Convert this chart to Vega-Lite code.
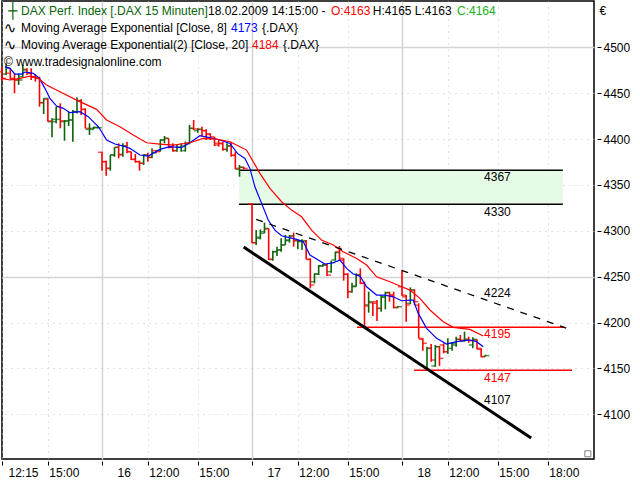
{
  "$schema": "https://vega.github.io/schema/vega-lite/v6.json",
  "autosize": "none",
  "width": 592,
  "height": 458,
  "padding": {"left": 2, "top": 1, "right": 46, "bottom": 21},
  "background": "white",
  "config": {
    "font": "Liberation Sans",
    "view": {"stroke": "black", "strokeWidth": 1.5}
  },
  "datasets": {
    "bars": [
      {"bar":-24,"open":4473.5,"high":4479,"low":4463.7,"close":4466.2},
      {"bar":-23,"open":4471,"high":4482.6,"low":4469.9,"close":4477.1},
      {"bar":-22,"open":4471.7,"high":4477.1,"low":4465.1,"close":4465.1},
      {"bar":-21,"open":4466.2,"high":4471.7,"low":4449.9,"close":4464.4},
      {"bar":-20,"open":4464.4,"high":4471.7,"low":4459,"close":4464.4},
      {"bar":-19,"open":4468,"high":4480.7,"low":4468,"close":4475.3},
      {"bar":-18,"open":4476,"high":4477.1,"low":4469.9,"close":4471.7},
      {"bar":-17,"open":4471.7,"high":4477.1,"low":4464.4,"close":4468},
      {"bar":-16,"open":4468,"high":4470.9,"low":4462.6,"close":4466.2},
      {"bar":-15,"open":4466.2,"high":4468,"low":4435.3,"close":4439.7},
      {"bar":-14,"open":4439.7,"high":4444.4,"low":4427.3,"close":4444.4},
      {"bar":-13,"open":4443.3,"high":4444.4,"low":4419,"close":4419.7},
      {"bar":-12,"open":4419,"high":4422.6,"low":4401.9,"close":4421.5},
      {"bar":-11,"open":4419,"high":4435.3,"low":4417.2,"close":4421.5},
      {"bar":-10,"open":4435.3,"high":4439,"low":4411.7,"close":4420},
      {"bar":-9,"open":4419,"high":4420.8,"low":4398.3,"close":4419.7},
      {"bar":-8,"open":4419.7,"high":4429.9,"low":4414.3,"close":4420.8},
      {"bar":-7,"open":4420.8,"high":4431.7,"low":4397.2,"close":4429.9},
      {"bar":-6,"open":4429.9,"high":4445.5,"low":4428,"close":4441.9},
      {"bar":-5,"open":4441.9,"high":4443.3,"low":4426.3,"close":4432.4},
      {"bar":-4,"open":4432.4,"high":4433.5,"low":4411.7,"close":4411.7},
      {"bar":-3,"open":4410.6,"high":4417.2,"low":4404.5,"close":4411.7},
      {"bar":-2,"open":4410.6,"high":4413.5,"low":4410.6,"close":4412.8},
      {"bar":-1,"open":4412.4,"high":4413.5,"low":4411.7,"close":4412.4},
      {"bar":0,"open":4385.6,"high":4386.3,"low":4365.6,"close":4375.4},
      {"bar":1,"open":4375.4,"high":4376.5,"low":4360.1,"close":4368.1},
      {"bar":2,"open":4368.1,"high":4382.7,"low":4365.6,"close":4382.7},
      {"bar":3,"open":4382.7,"high":4391,"low":4380.8,"close":4391},
      {"bar":4,"open":4391,"high":4395.4,"low":4379,"close":4382.7},
      {"bar":5,"open":4383.4,"high":4395.4,"low":4380.8,"close":4392.5},
      {"bar":6,"open":4392.5,"high":4397.2,"low":4384.5,"close":4386.3},
      {"bar":7,"open":4386.3,"high":4386.3,"low":4377.2,"close":4377.9},
      {"bar":8,"open":4377.9,"high":4383.7,"low":4374.3,"close":4375.4},
      {"bar":9,"open":4375.4,"high":4376.5,"low":4365.6,"close":4373.6},
      {"bar":10,"open":4373.6,"high":4383.4,"low":4371.8,"close":4382.7},
      {"bar":11,"open":4382.7,"high":4385.2,"low":4375.4,"close":4380.1},
      {"bar":12,"open":4380.1,"high":4389.9,"low":4379,"close":4385.2},
      {"bar":13,"open":4387.4,"high":4388.1,"low":4384.5,"close":4386.3},
      {"bar":14,"open":4387.4,"high":4399.7,"low":4386.3,"close":4399},
      {"bar":15,"open":4399,"high":4403.4,"low":4395.4,"close":4400.8},
      {"bar":16,"open":4400.8,"high":4400.8,"low":4389.9,"close":4391},
      {"bar":17,"open":4391,"high":4395.4,"low":4386.3,"close":4387.4},
      {"bar":18,"open":4387.4,"high":4393.6,"low":4386.3,"close":4391},
      {"bar":19,"open":4391,"high":4395.4,"low":4386.3,"close":4392.5},
      {"bar":20,"open":4387.4,"high":4397.2,"low":4386.3,"close":4395.4},
      {"bar":21,"open":4395.4,"high":4415.4,"low":4394.3,"close":4411.7},
      {"bar":22,"open":4411.7,"high":4420.8,"low":4409.9,"close":4411},
      {"bar":23,"open":4409.2,"high":4411.7,"low":4407,"close":4410.6},
      {"bar":24,"open":4410.6,"high":4413.5,"low":4402.6,"close":4409.2},
      {"bar":25,"open":4409.2,"high":4410.6,"low":4399,"close":4405.5},
      {"bar":26,"open":4405.5,"high":4406.3,"low":4399,"close":4402.6},
      {"bar":27,"open":4400.8,"high":4402.6,"low":4392.5,"close":4393.6},
      {"bar":28,"open":4395.4,"high":4399,"low":4391.7,"close":4395},
      {"bar":29,"open":4395.4,"high":4397.2,"low":4387.4,"close":4388.8},
      {"bar":30,"open":4388.8,"high":4395.4,"low":4386.3,"close":4392.5},
      {"bar":31,"open":4392.5,"high":4397.2,"low":4380.8,"close":4382.3},
      {"bar":32,"open":4382.3,"high":4386.3,"low":4367,"close":4368.1},
      {"bar":33,"open":4367,"high":4371.8,"low":4359,"close":4369.2},
      {"bar":34,"open":4369.2,"high":4369.9,"low":4367,"close":4368.1},
      {"bar":36,"open":4329.2,"high":4330,"low":4286.4,"close":4287.1},
      {"bar":37,"open":4287.1,"high":4300.9,"low":4284.6,"close":4291.8},
      {"bar":38,"open":4292.9,"high":4301.6,"low":4290.7,"close":4297.3},
      {"bar":39,"open":4299.1,"high":4308.9,"low":4297.3,"close":4302.7},
      {"bar":40,"open":4302,"high":4302.7,"low":4268.2,"close":4268.9},
      {"bar":41,"open":4268.9,"high":4278.4,"low":4267.5,"close":4277.3},
      {"bar":42,"open":4277.3,"high":4282.7,"low":4272.6,"close":4279.1},
      {"bar":43,"open":4279.1,"high":4291.8,"low":4277.3,"close":4284.6},
      {"bar":44,"open":4284.6,"high":4295.5,"low":4284.6,"close":4290},
      {"bar":45,"open":4289.3,"high":4295.5,"low":4287.1,"close":4294.4},
      {"bar":46,"open":4294.4,"high":4298,"low":4282.7,"close":4289.3},
      {"bar":47,"open":4289.3,"high":4290.7,"low":4279.8,"close":4289.3},
      {"bar":48,"open":4288.2,"high":4290.7,"low":4279.1,"close":4289.3},
      {"bar":49,"open":4288.2,"high":4290,"low":4268.9,"close":4268.9},
      {"bar":50,"open":4268.9,"high":4270,"low":4237.3,"close":4241},
      {"bar":51,"open":4244.5,"high":4253.6,"low":4242.7,"close":4252.9},
      {"bar":52,"open":4252.9,"high":4262.7,"low":4251.8,"close":4261.6},
      {"bar":53,"open":4261.9,"high":4263.8,"low":4260.8,"close":4262.7},
      {"bar":54,"open":4262.7,"high":4264.5,"low":4250.7,"close":4251.8},
      {"bar":55,"open":4255.5,"high":4267.5,"low":4254.4,"close":4265.3},
      {"bar":56,"open":4268.2,"high":4277.3,"low":4267.5,"close":4276.2},
      {"bar":57,"open":4277.3,"high":4283.5,"low":4268.2,"close":4270},
      {"bar":58,"open":4268.2,"high":4270,"low":4245.7,"close":4252.6},
      {"bar":59,"open":4252.6,"high":4253.7,"low":4226.4,"close":4233.7},
      {"bar":60,"open":4233.7,"high":4243.5,"low":4232.6,"close":4239.1},
      {"bar":61,"open":4239.9,"high":4253.7,"low":4239.1,"close":4251.9},
      {"bar":62,"open":4251.9,"high":4259.1,"low":4242,"close":4242.8},
      {"bar":63,"open":4242.8,"high":4244.6,"low":4194.8,"close":4218.1},
      {"bar":64,"open":4219.2,"high":4233.7,"low":4210.8,"close":4222.8},
      {"bar":65,"open":4221.7,"high":4222.8,"low":4207.2,"close":4221},
      {"bar":66,"open":4222.8,"high":4224.6,"low":4201.7,"close":4215.5},
      {"bar":67,"open":4215.5,"high":4230,"low":4211.9,"close":4228.2},
      {"bar":68,"open":4227.5,"high":4233.7,"low":4214.4,"close":4232.6},
      {"bar":69,"open":4232.6,"high":4233.7,"low":4222.8,"close":4230},
      {"bar":70,"open":4230,"high":4233.7,"low":4215.5,"close":4216.6},
      {"bar":71,"open":4216.2,"high":4218.1,"low":4216.2,"close":4217.3},
      {"bar":72,"open":4239.1,"high":4256.6,"low":4229,"close":4230},
      {"bar":73,"open":4228.2,"high":4230,"low":4201,"close":4219.2},
      {"bar":74,"open":4221,"high":4238.4,"low":4220.2,"close":4235.5},
      {"bar":75,"open":4235.5,"high":4236.2,"low":4219.2,"close":4222.8},
      {"bar":76,"open":4219,"high":4221,"low":4182.8,"close":4182.8},
      {"bar":77,"open":4181.7,"high":4182.8,"low":4169.4,"close":4177.4},
      {"bar":78,"open":4151.2,"high":4173.7,"low":4150.1,"close":4171.9},
      {"bar":79,"open":4171.9,"high":4176.6,"low":4157.4,"close":4159.2},
      {"bar":80,"open":4152.7,"high":4175.6,"low":4151.9,"close":4173.7},
      {"bar":81,"open":4173.7,"high":4174.5,"low":4152.7,"close":4161},
      {"bar":82,"open":4175.6,"high":4177.4,"low":4166.5,"close":4168.3},
      {"bar":83,"open":4168.3,"high":4182.8,"low":4165.7,"close":4177.4},
      {"bar":84,"open":4171.9,"high":4178.1,"low":4169.4,"close":4177.4},
      {"bar":85,"open":4175.6,"high":4184.6,"low":4173.7,"close":4181.7},
      {"bar":86,"open":4181.7,"high":4186.5,"low":4179.2,"close":4181},
      {"bar":87,"open":4179.9,"high":4190.1,"low":4179.2,"close":4181.7},
      {"bar":88,"open":4181.7,"high":4184.6,"low":4178.1,"close":4180.3},
      {"bar":89,"open":4175.6,"high":4183.9,"low":4171.9,"close":4181.7},
      {"bar":90,"open":4181,"high":4181.7,"low":4170.8,"close":4171.9},
      {"bar":91,"open":4170.8,"high":4171.9,"low":4162.1,"close":4162.8},
      {"bar":92,"open":4163,"high":4165,"low":4163,"close":4164}
    ],
    "averages": [
      {"bar":-23.3,"price":4478.9,"series":"ema8"},{"bar":-22.1,"price":4477.1,"series":"ema8"},
      {"bar":-20.9,"price":4470.9,"series":"ema8"},{"bar":-19.3,"price":4470.9,"series":"ema8"},
      {"bar":-18.5,"price":4473.1,"series":"ema8"},{"bar":-16.5,"price":4471.6,"series":"ema8"},
      {"bar":-15,"price":4466.2,"series":"ema8"},{"bar":-13.7,"price":4455.3,"series":"ema8"},
      {"bar":-12.5,"price":4444.4,"series":"ema8"},{"bar":-10.9,"price":4436,"series":"ema8"},
      {"bar":-9.3,"price":4433.5,"series":"ema8"},{"bar":-7.7,"price":4428.8,"series":"ema8"},
      {"bar":-5.3,"price":4429.8,"series":"ema8"},{"bar":-3.3,"price":4424.4,"series":"ema8"},
      {"bar":-0.9,"price":4413.5,"series":"ema8"},{"bar":-0.1,"price":4408,"series":"ema8"},
      {"bar":1.1,"price":4399,"series":"ema8"},{"bar":3.1,"price":4394.6,"series":"ema8"},
      {"bar":5.1,"price":4392.4,"series":"ema8"},{"bar":6.7,"price":4389.9,"series":"ema8"},
      {"bar":9.1,"price":4382.6,"series":"ema8"},{"bar":11.1,"price":4381.5,"series":"ema8"},
      {"bar":13.9,"price":4388.8,"series":"ema8"},{"bar":16.3,"price":4391.7,"series":"ema8"},
      {"bar":19.1,"price":4390.6,"series":"ema8"},{"bar":21.1,"price":4396.1,"series":"ema8"},
      {"bar":23.5,"price":4403.7,"series":"ema8"},{"bar":25.5,"price":4401.9,"series":"ema8"},
      {"bar":28.3,"price":4399,"series":"ema8"},{"bar":30.7,"price":4395.3,"series":"ema8"},
      {"bar":32.5,"price":4384.4,"series":"ema8"},{"bar":34.3,"price":4378.9,"series":"ema8"},
      {"bar":35.5,"price":4368,"series":"ema8"},{"bar":36.7,"price":4348,"series":"ema8"},
      {"bar":38.3,"price":4329.9,"series":"ema8"},{"bar":39.9,"price":4311.7,"series":"ema8"},
      {"bar":41.5,"price":4300.8,"series":"ema8"},{"bar":43.1,"price":4294.6,"series":"ema8"},
      {"bar":44.7,"price":4292.8,"series":"ema8"},{"bar":46.7,"price":4290.6,"series":"ema8"},
      {"bar":48.3,"price":4288.1,"series":"ema8"},{"bar":49.9,"price":4273.6,"series":"ema8"},
      {"bar":51.9,"price":4268.1,"series":"ema8"},{"bar":53.5,"price":4263.8,"series":"ema8"},
      {"bar":55.5,"price":4265.2,"series":"ema8"},{"bar":57.1,"price":4268.1,"series":"ema8"},
      {"bar":58.7,"price":4259,"series":"ema8"},{"bar":60.3,"price":4252.9,"series":"ema8"},
      {"bar":61.9,"price":4250.7,"series":"ema8"},{"bar":63.5,"price":4239,"series":"ema8"},
      {"bar":65.9,"price":4230,"series":"ema8"},{"bar":67.9,"price":4230,"series":"ema8"},
      {"bar":69.9,"price":4228.1,"series":"ema8"},{"bar":71.9,"price":4223.8,"series":"ema8"},
      {"bar":73.9,"price":4224.5,"series":"ema8"},{"bar":74.7,"price":4224.6,"series":"ema8"},
      {"bar":75.9,"price":4210,"series":"ema8"},{"bar":77.9,"price":4193.7,"series":"ema8"},
      {"bar":80.3,"price":4182.8,"series":"ema8"},{"bar":82.7,"price":4176.6,"series":"ema8"},
      {"bar":85.1,"price":4179.2,"series":"ema8"},{"bar":88.3,"price":4181,"series":"ema8"},
      {"bar":89.9,"price":4179.2,"series":"ema8"},{"bar":91.5,"price":4173.7,"series":"ema8"},
      {"bar":-24.1,"price":4466.2,"series":"ema20"},{"bar":-22.1,"price":4464.4,"series":"ema20"},
      {"bar":-19.7,"price":4466.2,"series":"ema20"},{"bar":-17.3,"price":4468.7,"series":"ema20"},
      {"bar":-15.3,"price":4466.2,"series":"ema20"},{"bar":-13.3,"price":4458.9,"series":"ema20"},
      {"bar":-10.1,"price":4451.6,"series":"ema20"},{"bar":-6.1,"price":4442.5,"series":"ema20"},
      {"bar":-1.3,"price":4432.4,"series":"ema20"},{"bar":1.1,"price":4420.8,"series":"ema20"},
      {"bar":4.3,"price":4413.5,"series":"ema20"},{"bar":7.5,"price":4404.4,"series":"ema20"},
      {"bar":10.7,"price":4396,"series":"ema20"},{"bar":13.9,"price":4394.6,"series":"ema20"},
      {"bar":17.1,"price":4393.5,"series":"ema20"},{"bar":21.1,"price":4396,"series":"ema20"},
      {"bar":24.3,"price":4400.8,"series":"ema20"},{"bar":27.5,"price":4400,"series":"ema20"},
      {"bar":30.7,"price":4397.1,"series":"ema20"},{"bar":33.1,"price":4391.7,"series":"ema20"},
      {"bar":34.7,"price":4388,"series":"ema20"},{"bar":36.3,"price":4375.3,"series":"ema20"},
      {"bar":37.9,"price":4362.6,"series":"ema20"},{"bar":40.3,"price":4346.2,"series":"ema20"},
      {"bar":43.1,"price":4331.7,"series":"ema20"},{"bar":45.5,"price":4322.6,"series":"ema20"},
      {"bar":47.9,"price":4315.3,"series":"ema20"},{"bar":50.3,"price":4300.8,"series":"ema20"},
      {"bar":52.7,"price":4289.9,"series":"ema20"},{"bar":55.5,"price":4284.5,"series":"ema20"},
      {"bar":57.9,"price":4277.2,"series":"ema20"},{"bar":61.1,"price":4269.9,"series":"ema20"},
      {"bar":63.5,"price":4262.7,"series":"ema20"},{"bar":65.9,"price":4249.9,"series":"ema20"},
      {"bar":69.1,"price":4244.5,"series":"ema20"},{"bar":71.5,"price":4239.8,"series":"ema20"},
      {"bar":73.9,"price":4235.4,"series":"ema20"},{"bar":76.3,"price":4226.4,"series":"ema20"},
      {"bar":78.7,"price":4213.7,"series":"ema20"},{"bar":81.9,"price":4201,"series":"ema20"},
      {"bar":84.3,"price":4194.8,"series":"ema20"},{"bar":88.3,"price":4192.6,"series":"ema20"},
      {"bar":91.5,"price":4185.4,"series":"ema20"}
    ],
    "levels": [
      {"start":32.9,"end":110.6,"price":4366,"kind":"zone"},
      {"start":32.9,"end":110.6,"price":4329,"kind":"zone"},
      {"start":61.2,"end":111,"price":4195,"kind":"support"},
      {"start":74.9,"end":112.8,"price":4148,"kind":"support"}
    ],
    "notes": [
      {"bar":91.7,"price":4358.6,"label":"4367","kind":"zone"},
      {"bar":91.7,"price":4320.5,"label":"4330","kind":"zone"},
      {"bar":91.7,"price":4232,"label":"4224","kind":"zone"},
      {"bar":91.7,"price":4187.6,"label":"4195","kind":"support"},
      {"bar":91.7,"price":4139.6,"label":"4147","kind":"support"},
      {"bar":91.7,"price":4115.6,"label":"4107","kind":"zone"}
    ],
    "header": [
      {"bar":-19.44,"price":4539.6,"label":"DAX Perf. Index [.DAX 15 Minuten]","tone":"name"},
      {"bar":25.44,"price":4539.6,"label":"18.02.2009 14:15:00 -","tone":"plain"},
      {"bar":54.96,"price":4539.6,"label":"O:4163","tone":"red"},
      {"bar":65,"price":4539.6,"label":"H:4165 L:4163","tone":"plain"},
      {"bar":85.2,"price":4539.6,"label":"C:4164","tone":"green"},
      {"bar":-19.44,"price":4521,"label":"Moving Average Exponential [Close, 8]","tone":"plain"},
      {"bar":30.96,"price":4521,"label":"4173","tone":"blue"},
      {"bar":38.4,"price":4521,"label":"{.DAX}","tone":"plain"},
      {"bar":-19.44,"price":4502.5,"label":"Moving Average Exponential(2) [Close, 20]","tone":"plain"},
      {"bar":36,"price":4502.5,"label":"4184","tone":"red"},
      {"bar":43.44,"price":4502.5,"label":"{.DAX}","tone":"plain"},
      {"bar":-23.52,"price":4484,"label":"© www.tradesignalonline.com","tone":"plain"}
    ],
    "icons": [
      {"bar":-22.5,"price":4539.6,"label":"┼","tone":"name"},
      {"bar":-23.6,"price":4521,"label":"∿","tone":"plain"},
      {"bar":-23.6,"price":4502.5,"label":"∿","tone":"plain"}
    ]
  },
  "layer": [
    {
      "data": {"name": "levels"},
      "transform": [{"filter": "datum.kind == 'zone'"}, {"pivot": "price", "value": "price", "groupby": ["start", "end"]}],
      "mark": {"type": "rect", "color": "#e6fbe6"},
      "encoding": {
        "x": {
          "field": "start",
          "type": "quantitative",
          "scale": {"domain": [-24, 118.08], "nice": false, "zero": false},
          "axis": {
            "orient": "bottom",
            "title": null,
            "domain": false,
            "offset": 2,
            "tickSize": 4,
            "tickColor": "black",
            "tickWidth": 1,
            "labelPadding": 2,
            "labelFontSize": 12,
            "labelColor": "black",
            "labelAlign": "left",
            "labelBaseline": "top",
            "labelFlush": false,
            "labelOverlap": false,
            "labelOffset": {"condition": [{"test": "indexof([0,36,72],datum.value)>=0", "value": 15}, {"test": "datum.value==-24", "value": 6}], "value": 1},
            "values": [-24, -13, 0, 11, 23, 36, 47, 59, 72, 83, 95, 107],
            "labelExpr": "{'-24':'12:15','-13':'15:00','0':'16','11':'12:00','23':'15:00','36':'17','47':'12:00','59':'15:00','72':'18','83':'12:00','95':'15:00','107':'18:00'}[datum.value]",
            "grid": true,
            "gridColor": {"condition": {"test": "indexof([0,36,72],datum.value)>=0", "value": "#d4d4d4"}, "value": "#c4c4c4"},
            "gridWidth": {"condition": {"test": "indexof([0,36,72],datum.value)>=0", "value": 1.5}, "value": 1},
            "gridDash": {"condition": {"test": "indexof([0,36,72],datum.value)>=0", "value": []}, "value": [1, 5]}
          }
        },
        "x2": {"field": "end"},
        "y": {
          "field": "4366",
          "type": "quantitative",
          "scale": {"domain": [4051.3, 4550.5], "nice": false, "zero": false},
          "axis": {
            "orient": "right",
            "title": "€",
            "titleAngle": 0,
            "titleX": 2,
            "titleY": 9,
            "titleAlign": "left",
            "titleBaseline": "middle",
            "titleFontSize": 12,
            "titleFontWeight": "normal",
            "domain": false,
            "offset": 3,
            "tickSize": 4,
            "tickColor": "black",
            "tickWidth": 1,
            "labelPadding": 2,
            "labelFontSize": 12,
            "labelColor": "black",
            "labelFlush": false,
            "format": "d",
            "values": [4100, 4150, 4200, 4250, 4300, 4350, 4400, 4450, 4500],
            "grid": true,
            "gridColor": {"condition": {"test": "datum.value==4250||datum.value==4500", "value": "#d4d4d4"}, "value": "#c4c4c4"},
            "gridWidth": {"condition": {"test": "datum.value==4250||datum.value==4500", "value": 1.5}, "value": 1},
            "gridDash": {"condition": {"test": "datum.value==4250||datum.value==4500", "value": []}, "value": [1, 5]}
          }
        },
        "y2": {"field": "4329"}
      }
    },
    {
      "data": {"name": "levels"},
      "mark": {"type": "rule", "strokeWidth": 1.5},
      "encoding": {
        "x": {"field": "start", "type": "quantitative"},
        "x2": {"field": "end"},
        "y": {"field": "price", "type": "quantitative"},
        "color": {"field": "kind", "type": "nominal", "scale": {"domain": ["zone", "support"], "range": ["black", "#ff0000"]}, "legend": null}
      }
    },
    {
      "data": {"name": "bars"},
      "mark": {"type": "rule", "strokeWidth": 1.6},
      "encoding": {
        "x": {"field": "bar", "type": "quantitative"},
        "y": {"field": "low", "type": "quantitative"},
        "y2": {"field": "high"},
        "color": {"condition": {"test": "datum.close < datum.open", "value": "#ff0000"}, "value": "#0a640a"}
      }
    },
    {
      "data": {"name": "bars"},
      "mark": {"type": "tick", "orient": "horizontal", "size": 4, "thickness": 1.5, "xOffset": -2},
      "encoding": {
        "x": {"field": "bar", "type": "quantitative"},
        "y": {"field": "open", "type": "quantitative"},
        "color": {"condition": {"test": "datum.close < datum.open", "value": "#ff0000"}, "value": "#0a640a"}
      }
    },
    {
      "data": {"name": "bars"},
      "mark": {"type": "tick", "orient": "horizontal", "size": 4, "thickness": 1.5, "xOffset": 2},
      "encoding": {
        "x": {"field": "bar", "type": "quantitative"},
        "y": {"field": "close", "type": "quantitative"},
        "color": {"condition": {"test": "datum.close < datum.open", "value": "#ff0000"}, "value": "#0a640a"}
      }
    },
    {
      "data": {"name": "averages"},
      "mark": {"type": "line", "strokeWidth": 1.2},
      "encoding": {
        "x": {"field": "bar", "type": "quantitative"},
        "y": {"field": "price", "type": "quantitative"},
        "color": {"field": "series", "type": "nominal", "scale": {"domain": ["ema8", "ema20"], "range": ["#0000ff", "#ff0000"]}, "legend": null}
      }
    },
    {
      "data": {"values": [{"bar": 34, "price": 4282.3}, {"bar": 103, "price": 4074.2}]},
      "mark": {"type": "line", "color": "black", "strokeWidth": 3},
      "encoding": {
        "x": {"field": "bar", "type": "quantitative"},
        "y": {"field": "price", "type": "quantitative"}
      }
    },
    {
      "data": {"values": [{"bar": 37, "price": 4312.5}, {"bar": 111.4, "price": 4194}]},
      "mark": {"type": "line", "color": "black", "strokeWidth": 1.3, "strokeDash": [7, 7]},
      "encoding": {
        "x": {"field": "bar", "type": "quantitative"},
        "y": {"field": "price", "type": "quantitative"}
      }
    },
    {
      "data": {"name": "notes"},
      "mark": {"type": "text", "align": "left", "baseline": "middle", "fontSize": 12},
      "encoding": {
        "x": {"field": "bar", "type": "quantitative"},
        "y": {"field": "price", "type": "quantitative"},
        "text": {"field": "label"},
        "color": {"field": "kind", "type": "nominal", "scale": {"domain": ["zone", "support"], "range": ["black", "#ff0000"]}, "legend": null}
      }
    },
    {
      "data": {"name": "header"},
      "mark": {"type": "text", "align": "left", "baseline": "middle", "fontSize": 12},
      "encoding": {
        "x": {"field": "bar", "type": "quantitative"},
        "y": {"field": "price", "type": "quantitative"},
        "text": {"field": "label"},
        "color": {"field": "tone", "type": "nominal", "scale": {"domain": ["name", "plain", "red", "green", "blue"], "range": ["#0a640a", "black", "#ff0000", "#22b022", "#0000ff"]}, "legend": null}
      }
    },
    {
      "data": {"name": "icons"},
      "mark": {"type": "text", "align": "left", "baseline": "middle", "fontSize": 15, "font": "DejaVu Sans"},
      "encoding": {
        "x": {"field": "bar", "type": "quantitative"},
        "y": {"field": "price", "type": "quantitative"},
        "text": {"field": "label"},
        "color": {"field": "tone", "type": "nominal", "scale": {"domain": ["name", "plain"], "range": ["#0a640a", "black"]}, "legend": null}
      }
    },
    {
      "data": {"values": [{"bar": 116.6, "price": 4057}]},
      "mark": {"type": "point", "shape": "square", "size": 36, "fill": "white", "stroke": "#808080", "strokeWidth": 1, "opacity": 1},
      "encoding": {
        "x": {"field": "bar", "type": "quantitative"},
        "y": {"field": "price", "type": "quantitative"}
      }
    }
  ],
  "resolve": {"scale": {"color": "independent"}}
}
